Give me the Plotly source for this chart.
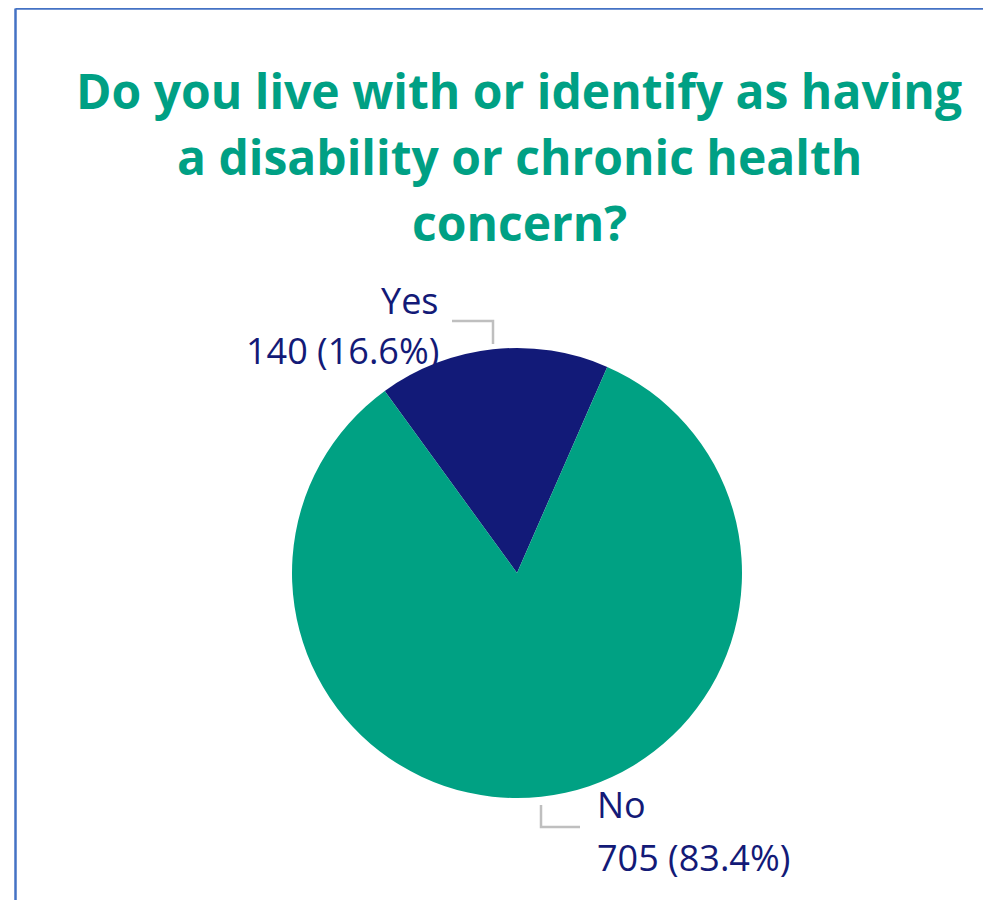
import plotly.graph_objects as go

labels = ["Yes", "No"]
values = [140, 705]
colors = ["#121a78", "#00a183"]
title_lines = ["Do you live with or identify as having", "a disability or chronic health", "concern?"]

OFF = 8  # default page body margin
W, H = 991 - OFF, 900 - OFF
total = sum(values)
pcts = [v / total * 100 for v in values]


def px(x):
    return (x - OFF) / W


def py(y):
    return 1 - (y - OFF) / H


fig = go.Figure(go.Pie(
    labels=labels, values=values, sort=False, direction="clockwise",
    rotation=-36, marker=dict(colors=colors, line=dict(width=0)),
    textinfo="none", hoverinfo="label+value+percent", showlegend=False,
    domain=dict(x=[px(292), px(742)], y=[py(798), py(348)]),
))

ann = []
for i, line in enumerate(title_lines):
    ann.append(dict(text="<b>%s</b>" % line, x=px(519), y=py(90 + i * 66), xref="paper", yref="paper",
                    showarrow=False, xanchor="center", yanchor="middle",
                    font=dict(family="Open Sans", size=48, color="#00a084")))

lab_font = dict(family="Open Sans", size=36, color="#131a77")
# Yes label
ann.append(dict(text=labels[0], x=px(441), y=py(300), xref="paper", yref="paper", showarrow=False,
                xanchor="right", yanchor="middle", font=lab_font))
ann.append(dict(text="%d (%.1f%%)" % (values[0], pcts[0]), x=px(441), y=py(351), xref="paper", yref="paper",
                showarrow=False, xanchor="right", yanchor="middle", font=lab_font))
# No label
ann.append(dict(text=labels[1], x=px(595), y=py(804), xref="paper", yref="paper", showarrow=False,
                xanchor="left", yanchor="middle", font=lab_font))
ann.append(dict(text="%d (%.1f%%)" % (values[1], pcts[1]), x=px(595), y=py(857), xref="paper", yref="paper",
                showarrow=False, xanchor="left", yanchor="middle", font=lab_font))

shapes = [
    dict(type="line", xref="paper", yref="paper", x0=px(15.5), x1=1.01, y0=py(8.5), y1=py(8.5),
         line=dict(color="#4472c4", width=2.5)),
    dict(type="line", xref="paper", yref="paper", x0=px(15.5), x1=px(15.5), y0=py(8.5), y1=-0.01,
         line=dict(color="#4472c4", width=2.5)),
    dict(type="path", xref="paper", yref="paper",
         path="M %f %f L %f %f L %f %f" % (px(452), py(321), px(493), py(321), px(493), py(344)),
         line=dict(color="#bfbfbf", width=2.5)),
    dict(type="path", xref="paper", yref="paper",
         path="M %f %f L %f %f L %f %f" % (px(541), py(805), px(541), py(827), px(580), py(827)),
         line=dict(color="#bfbfbf", width=2.5)),
]

fig.update_layout(width=W, height=H, margin=dict(l=0, r=0, t=0, b=0),
                  paper_bgcolor="white", plot_bgcolor="white",
                  annotations=ann, shapes=shapes)
fig.write_html("out.html")
